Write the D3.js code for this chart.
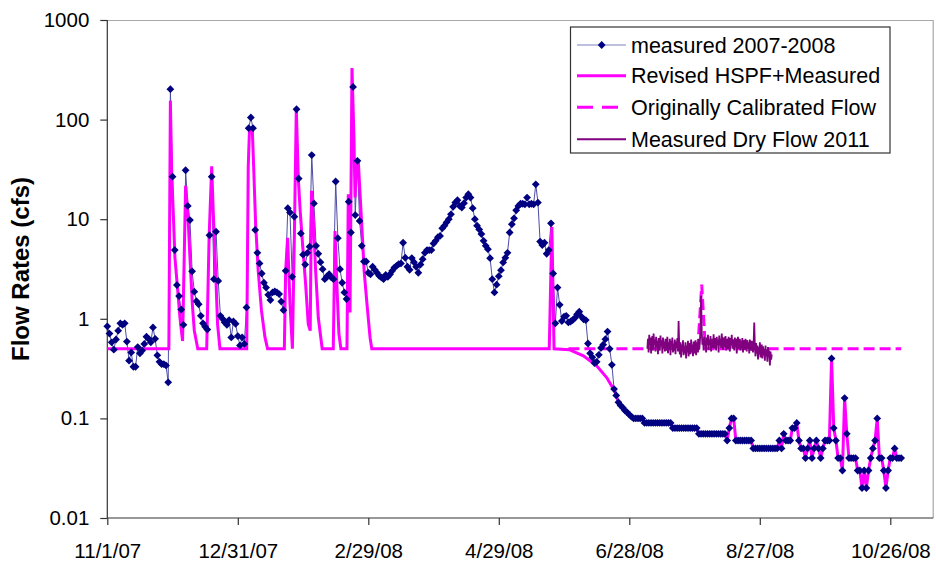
<!DOCTYPE html>
<html>
<head>
<meta charset="utf-8" />
<script src="https://d3js.org/d3.v7.min.js"></script>
<style>
  body { margin: 0; background: #fff; }
  text { font-family: Arial, "Liberation Sans", sans-serif; fill: #000; }
</style>
</head>
<body>
<script>
// x = days since 11/1/07
var xTickDays = [0, 60, 120, 180, 240, 300, 360];
var xTickLabels = ["11/1/07", "12/31/07", "2/29/08", "4/29/08", "6/28/08", "8/27/08", "10/26/08"];
var yTicks = [0.01, 0.1, 1, 10, 100, 1000];
var yTickLabels = ["0.01", "0.1", "1", "10", "100", "1000"];

// measured 2007-2008, one value per day from 11/1/07
var measured = [
  0.84,0.71,0.58,0.49,0.62,0.76,0.9,0.87,0.9,0.59,
  0.38,0.46,0.33,0.33,0.52,0.45,0.48,0.56,0.66,0.63,
  0.58,0.82,0.63,0.43,0.37,0.35,0.35,0.34,0.23,202,
  26.7,4.9,2.18,1.69,1.24,0.87,31,13.6,9.8,3.0,
  1.87,1.5,1.4,1.07,0.9,0.83,0.78,6.9,26.7,2.5,
  7.5,2.4,1.07,1.0,0.92,0.87,0.97,0.65,0.94,0.89,
  0.67,0.54,0.65,0.56,1.3,82,105,82,7.8,4.6,
  3.6,2.85,2.3,2.06,1.74,1.54,1.84,1.88,1.84,1.77,
  1.49,1.22,3.03,12.9,11.7,2.64,10.6,127,25.6,7.2,
  4.4,3.5,4.6,5.3,44,14.4,5.4,4.5,3.7,3.15,
  2.5,2.66,2.8,2.6,2.5,23.9,6.45,3.15,2.3,1.84,
  1.58,15,7.35,213,11,38.6,9.6,5.4,3.76,3.76,
  2.9,2.8,3.33,3.1,2.9,2.7,2.6,2.5,2.76,2.64,
  2.8,3.03,3.27,3.4,3.54,3.6,5.8,4.1,3.33,3.1,
  4.07,3.7,3.33,2.9,3.5,3.97,4.6,4.9,4.9,4.9,
  5.7,6.06,6.6,6.8,8.1,8.6,9.3,10,11.2,13.3,
  14.7,15.5,13.6,13.1,14.5,16.5,17.8,16.5,12.9,10,
  8.6,7.9,7.1,6.06,5.4,5.0,4.06,2.5,1.84,2.2,
  2.68,3.08,3.68,4.1,4.6,7.35,8.9,10.2,12.3,13.6,
  14.3,14.3,14.1,16.5,14.1,14.3,14.1,22.4,14.7,5.96,
  5.5,5.8,4.5,4.9,9.1,2.85,0.9,2.06,1.38,0.95,
  1.05,1.07,0.92,0.94,0.97,1.02,1.11,1.18,1.05,0.99,
  0.97,0.565,0.45,0.41,0.36,0.37,0.435,0.51,0.55,0.625,
  0.745,0.5,0.345,0.197,0.17,0.145,0.135,0.128,0.12,0.115,
  0.109,0.104,0.1,0.1,0.1,0.1,0.1,0.09,0.09,0.09,
  0.09,0.09,0.09,0.09,0.09,0.09,0.09,0.09,0.09,0.09,
  0.08,0.08,0.08,0.08,0.08,0.08,0.08,0.08,0.08,0.08,
  0.08,0.08,0.07,0.07,0.07,0.07,0.07,0.07,0.07,0.07,
  0.07,0.07,0.07,0.07,0.07,0.06,0.08,0.1,0.1,0.06,
  0.06,0.06,0.06,0.06,0.06,0.06,0.06,0.05,0.05,0.05,
  0.05,0.05,0.05,0.05,0.05,0.05,0.05,0.05,0.05,0.06,
  0.05,0.07,0.06,0.06,0.06,0.08,0.08,0.09,0.06,0.05,
  0.05,0.04,0.05,0.06,0.04,0.05,0.06,0.05,0.04,0.05,
  0.06,0.06,0.06,0.4,0.08,0.06,0.04,0.04,0.03,0.16,
  0.07,0.04,0.04,0.04,0.04,0.03,0.03,0.02,0.03,0.02,
  0.03,0.04,0.05,0.06,0.1,0.04,0.04,0.03,0.02,0.03,
  0.04,0.04,0.05,0.04,0.04,0.04
];

// Revised HSPF+Measured: HSPF part (day, value); measured values are used from revisedJoinDay on
var revisedDays = [0,28.3,29.0,29.6,30.3,31.1,32.4,33.4,34.6,35.3,36.0,37.0,38.0,39.1,40.0,41.6,
  45.7,46.8,48.0,48.7,49.8,50.7,51.8,
  64.1,64.8,65.4,66.7,67.3,68.2,69.4,70.9,72.5,73.7,
  81.4,82.0,82.9,84.0,85.1,86.0,86.9,87.8,88.7,89.9,91.2,92.4,93.3,93.9,94.9,95.8,97.0,98.8,
  103.9,104.7,105.6,106.5,107.4,110.2,110.8,111.6,112.5,113.4,113.9,114.5,115.4,116.3,117.4,118.1,119.4,120.8,121.6,
  203.2,204.4,205.4,212.4,218.9,225.0,229.6,232.0];
var revisedVals = [0.5,0.5,155,30,12,4.1,1.9,1.03,0.6,3.5,21.6,12,4.1,1.4,0.76,0.5,
  0.5,6.5,34,12,3,0.88,0.5,
  0.5,33,83,77,33,8.9,3.0,1.2,0.65,0.5,
  0.5,3,6.5,1.4,0.5,6.5,131,26,12,5.2,2.2,0.88,0.76,19.3,8.3,3,1.03,0.5,
  0.5,7.6,2.06,0.7,0.5,0.5,17.8,1.16,330,66,16.5,30.6,38.6,16.5,6,3,1.4,0.65,0.5,
  0.5,8.4,0.5,0.49,0.425,0.337,0.257,0.21];
var revisedJoinDay = 233;

// Originally Calibrated Flow
var originalDays = [212, 271.5, 273.3, 275, 365];
var originalVals = [0.5, 0.5, 2.2, 0.5, 0.5];

// Measured Dry Flow 2011 (plotted over days 248.3 - 305.5)
var dryStart = 248.3, dryEnd = 305.5;
var dryFlow = [
  0.5,0.63,0.46,0.69,0.54,0.65,0.45,0.6,0.67,0.48,
  0.71,0.55,0.62,0.47,0.66,0.52,0.6,0.44,0.64,0.56,
  0.48,0.68,0.53,0.61,0.45,0.65,0.5,0.59,0.47,0.63,
  0.55,0.48,0.66,0.45,0.58,0.5,0.63,0.43,0.6,0.52,
  0.65,0.46,0.56,0.48,0.62,0.44,0.59,0.51,0.64,0.47,
  0.95,
  0.53,0.44,0.58,0.41,0.55,0.47,0.61,0.43,0.53,0.45,
  0.58,0.4,0.54,0.46,0.6,0.42,0.52,0.57,0.44,0.62,
  0.46,0.55,0.42,0.59,0.49,0.45,0.61,0.43,0.54,0.58,
  0.46,0.63,0.49,0.58,
  0.8,1.7,0.75,
  0.55,0.63,0.48,0.66,0.53,0.61,0.46,0.65,0.55,0.69,
  0.49,0.62,0.54,0.67,0.47,0.63,0.57,0.51,0.7,0.5,
  0.6,0.64,0.48,0.66,0.55,0.62,0.46,0.68,0.54,0.63,
  0.51,0.71,0.57,0.49,0.65,0.58,0.52,0.67,0.48,0.63,
  0.56,0.5,0.66,0.58,0.47,0.64,0.54,0.69,0.5,0.62,
  0.57,0.48,0.65,0.52,0.63,0.45,0.6,0.66,0.5,0.58,
  0.63,0.48,0.6,0.51,0.64,0.46,0.61,0.54,0.49,0.63,
  0.53,0.47,0.61,0.5,0.58,0.45,0.62,0.51,0.48,0.6,
  0.5,0.46,0.57,
  0.92,
  0.52,0.42,0.57,0.45,0.54,0.39,0.52,0.44,0.58,0.41,
  0.51,0.55,0.4,0.53,0.43,0.5,0.38,0.54,0.42,0.49,
  0.37,0.52,0.41,0.48,0.34,0.47,0.39,0.44
];

var legendLabels = ["measured 2007-2008", "Revised HSPF+Measured", "Originally Calibrated Flow", "Measured Dry Flow 2011"];

var width = 936, height = 563;
var plotLeft = 107.3, plotRight = 932.7, plotTop = 20, plotBottom = 518;

var svg = d3.select("body").append("svg")
  .attr("width", width)
  .attr("height", height);

var x = d3.scaleLinear().domain([0, 379.5]).range([plotLeft, plotRight]);
var y = d3.scaleLog().domain([0.01, 1000]).range([plotBottom, plotTop]);

// build series
var measuredPts = measured.map(function (v, i) { return [i, v]; });
var revisedPts = revisedDays.map(function (d, i) { return [d, revisedVals[i]]; })
  .concat(measuredPts.filter(function (p) { return p[0] >= revisedJoinDay; }));
var originalPts = originalDays.map(function (d, i) { return [d, originalVals[i]]; });
var dryStep = (dryEnd - dryStart) / (dryFlow.length - 1);
var dryPts = dryFlow.map(function (v, i) { return [dryStart + i * dryStep, v]; });

var line = d3.line().x(function (d) { return x(d[0]); }).y(function (d) { return y(d[1]); });

// frame (top and right)
svg.append("path")
  .attr("d", "M" + plotLeft + "," + (plotTop + 0.5) + "H" + (plotRight + 0.5) + "V" + plotBottom)
  .attr("fill", "none")
  .attr("stroke", "#a8a8a8")
  .attr("stroke-width", 1.2);

// axes
var yAxis = svg.append("g")
  .attr("transform", "translate(" + plotLeft + ",0)")
  .call(d3.axisLeft(y).tickValues(yTicks).tickSize(7).tickPadding(11)
    .tickFormat(function (d, i) { return yTickLabels[i]; }));
var xAxis = svg.append("g")
  .attr("transform", "translate(0," + plotBottom + ")")
  .call(d3.axisBottom(x).tickValues(xTickDays).tickSize(7).tickPadding(18)
    .tickFormat(function (d, i) { return xTickLabels[i]; }));
[yAxis, xAxis].forEach(function (a) {
  a.selectAll("path, line").attr("stroke", "#333").attr("stroke-width", 1.2);
  a.selectAll("text").style("font-size", "20.5px").style("font-family", "Arial, 'Liberation Sans', sans-serif").attr("fill", "#000");
});
xAxis.select(".domain").attr("d", "M" + plotLeft + ",0H" + (plotRight + 0.5));
yAxis.select(".domain").attr("d", "M0," + plotTop + "V" + plotBottom);

// y title
svg.append("text")
  .attr("transform", "translate(29," + ((plotTop + plotBottom) / 2) + ") rotate(-90)")
  .attr("text-anchor", "middle")
  .style("font-size", "24px")
  .style("font-weight", "bold")
  .text("Flow Rates (cfs)");

// series
svg.append("path").datum(measuredPts)
  .attr("d", line).attr("fill", "none")
  .attr("stroke", "#4d4da6").attr("stroke-width", 1);

svg.append("path").datum(revisedPts)
  .attr("d", line).attr("fill", "none")
  .attr("stroke", "#ff00ff").attr("stroke-width", 3)
  .attr("stroke-linejoin", "miter").attr("stroke-miterlimit", 2);

svg.append("path").datum(originalPts)
  .attr("d", line).attr("fill", "none")
  .attr("stroke", "#ff00ff").attr("stroke-width", 3)
  .attr("stroke-dasharray", "11,5");

svg.append("path").datum(dryPts)
  .attr("d", line).attr("fill", "none")
  .attr("stroke", "#800080").attr("stroke-width", 1.8);

var diamond = "M0,-3.9L3.9,0L0,3.9L-3.9,0Z";
svg.append("g").selectAll("path")
  .data(measuredPts)
  .enter().append("path")
  .attr("d", diamond)
  .attr("transform", function (d) { return "translate(" + x(d[0]) + "," + y(d[1]) + ")"; })
  .attr("fill", "#000080");

// legend
var lg = svg.append("g");
lg.append("rect")
  .attr("x", 570.5).attr("y", 27).attr("width", 319.5).attr("height", 126)
  .attr("fill", "#fff").attr("stroke", "#333").attr("stroke-width", 1.2);
var rowY = [45, 75.7, 107.3, 139.3];
var styles = [
  { stroke: "#8080c0", w: 1.2, dash: null },
  { stroke: "#ff00ff", w: 3, dash: null },
  { stroke: "#ff00ff", w: 3, dash: "16,9" },
  { stroke: "#800080", w: 2, dash: null }
];
legendLabels.forEach(function (lab, i) {
  lg.append("line")
    .attr("x1", 577).attr("x2", 626).attr("y1", rowY[i]).attr("y2", rowY[i])
    .attr("stroke", styles[i].stroke).attr("stroke-width", styles[i].w)
    .attr("stroke-dasharray", styles[i].dash);
  if (i === 0) {
    lg.append("path").attr("d", diamond)
      .attr("transform", "translate(601.7," + rowY[i] + ")")
      .attr("fill", "#000080");
  }
  lg.append("text")
    .attr("x", 631).attr("y", rowY[i]).attr("dy", "0.36em")
    .style("font-size", "21.5px")
    .text(lab);
});
</script>
</body>
</html>
